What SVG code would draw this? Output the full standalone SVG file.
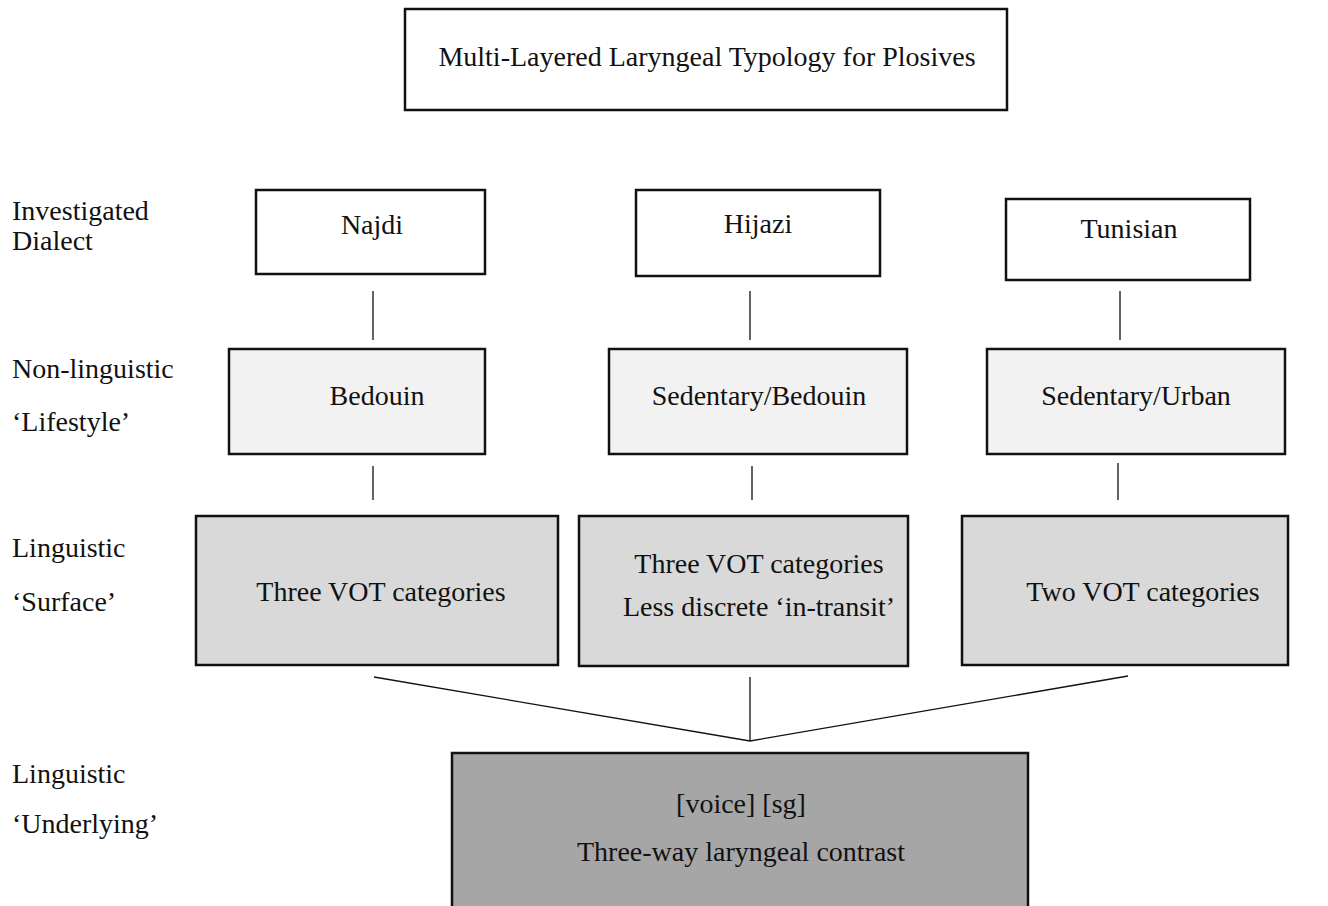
<svg xmlns="http://www.w3.org/2000/svg" width="1328" height="906" viewBox="0 0 1328 906">
  <style>
    text { font-family: "Liberation Serif", "Times New Roman", serif; font-size: 28px; fill: #111; }
    .c { text-anchor: middle; }
    .box { stroke: #111; stroke-width: 2.5; }
    .l0 { fill: #ffffff; }
    .l1 { fill: #f2f2f2; }
    .l2 { fill: #d9d9d9; }
    .l3 { fill: #a6a6a6; }
    .conn line { stroke: #111; stroke-width: 1.3; }
  </style>
  <rect width="1328" height="906" fill="#ffffff"/>

  <!-- title -->
  <g id="title">
    <rect class="box l0" x="405" y="9" width="602" height="101"/>
    <text class="c" x="707" y="66">Multi-Layered Laryngeal Typology for Plosives</text>
  </g>

  <!-- row labels -->
  <g id="row-labels">
    <text x="12" y="220">Investigated</text>
    <text x="12" y="250">Dialect</text>
    <text x="12" y="378">Non-linguistic</text>
    <text x="12" y="431">‘Lifestyle’</text>
    <text x="12" y="557">Linguistic</text>
    <text x="12" y="611">‘Surface’</text>
    <text x="12" y="783">Linguistic</text>
    <text x="12" y="833">‘Underlying’</text>
  </g>

  <!-- dialects -->
  <g id="najdi">
    <rect class="box l0" x="256" y="190" width="229" height="84"/>
    <text class="c" x="372" y="234">Najdi</text>
  </g>
  <g id="hijazi">
    <rect class="box l0" x="636" y="190" width="244" height="86"/>
    <text class="c" x="758" y="233">Hijazi</text>
  </g>
  <g id="tunisian">
    <rect class="box l0" x="1006" y="199" width="244" height="81"/>
    <text class="c" x="1129" y="238">Tunisian</text>
  </g>

  <!-- lifestyle -->
  <g id="bedouin">
    <rect class="box l1" x="229" y="349" width="256" height="105"/>
    <text class="c" x="377" y="405">Bedouin</text>
  </g>
  <g id="sedentary-bedouin">
    <rect class="box l1" x="609" y="349" width="298" height="105"/>
    <text class="c" x="759" y="405">Sedentary/Bedouin</text>
  </g>
  <g id="sedentary-urban">
    <rect class="box l1" x="987" y="349" width="298" height="105"/>
    <text class="c" x="1136" y="405">Sedentary/Urban</text>
  </g>

  <!-- surface -->
  <g id="surface-najdi">
    <rect class="box l2" x="196" y="516" width="362" height="149"/>
    <text class="c" x="381" y="601">Three VOT categories</text>
  </g>
  <g id="surface-hijazi">
    <rect class="box l2" x="579" y="516" width="329" height="150"/>
    <text class="c" x="759" y="573">Three VOT categories</text>
    <text class="c" x="759" y="616">Less discrete ‘in-transit’</text>
  </g>
  <g id="surface-tunisian">
    <rect class="box l2" x="962" y="516" width="326" height="149"/>
    <text class="c" x="1143" y="601">Two VOT categories</text>
  </g>

  <!-- underlying -->
  <g id="underlying">
    <rect class="box l3" x="452" y="753" width="576" height="170"/>
    <text class="c" x="741" y="813">[voice] [sg]</text>
    <text class="c" x="741" y="861">Three-way laryngeal contrast</text>
  </g>

  <!-- connectors -->
  <g id="connectors" class="conn">
    <line x1="373" y1="291" x2="373" y2="340"/>
    <line x1="750" y1="291" x2="750" y2="340"/>
    <line x1="1120" y1="291" x2="1120" y2="340"/>
    <line x1="373" y1="466" x2="373" y2="500"/>
    <line x1="752" y1="466" x2="752" y2="500"/>
    <line x1="1118" y1="463" x2="1118" y2="500"/>
    <line x1="374" y1="677" x2="750" y2="741"/>
    <line x1="750" y1="677" x2="750" y2="741"/>
    <line x1="1128" y1="676" x2="750" y2="741"/>
  </g>
</svg>
